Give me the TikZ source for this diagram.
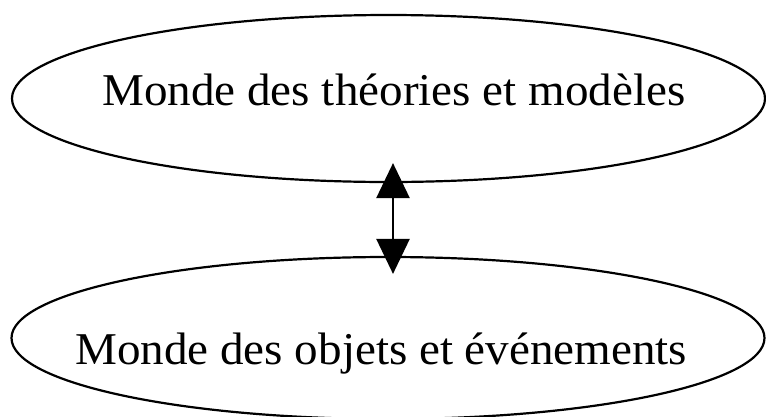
\documentclass[tikz,border=0pt]{standalone}
\usepackage{fontspec}
\setmainfont{Liberation Serif}
\usetikzlibrary{shapes.geometric,arrows.meta}
\begin{document}
\begin{tikzpicture}[x=1pt,y=-1pt,
  world/.style={draw=black,line width=2.2pt,shape=ellipse,inner sep=0pt,minimum width=753pt},
  lbl/.style={anchor=base west,inner sep=0pt,font=\fontsize{45.5}{54}\selectfont},
  link/.style={line width=2.5pt,{Triangle[width=33pt,length=35pt]}-{Triangle[width=33pt,length=35pt]}}]
\useasboundingbox (0,0) rectangle (766,416);
\node[world,minimum height=167pt] (top) at (388.5,98.5) {};
\node[world,minimum height=162pt] (bot) at (388,338) {};
\node[lbl] (ttop) at (102,105) {\scalebox{1.035}[1]{Monde des théories et modèles}};
\node[lbl] (tbot) at (75,364) {\scalebox{1.035}[1]{Monde des objets et événements}};
\draw[link,shorten <=-20pt,shorten >=-18pt] ([xshift=4.5pt]top.south) -- ([xshift=5pt]bot.north);
\end{tikzpicture}
\end{document}
